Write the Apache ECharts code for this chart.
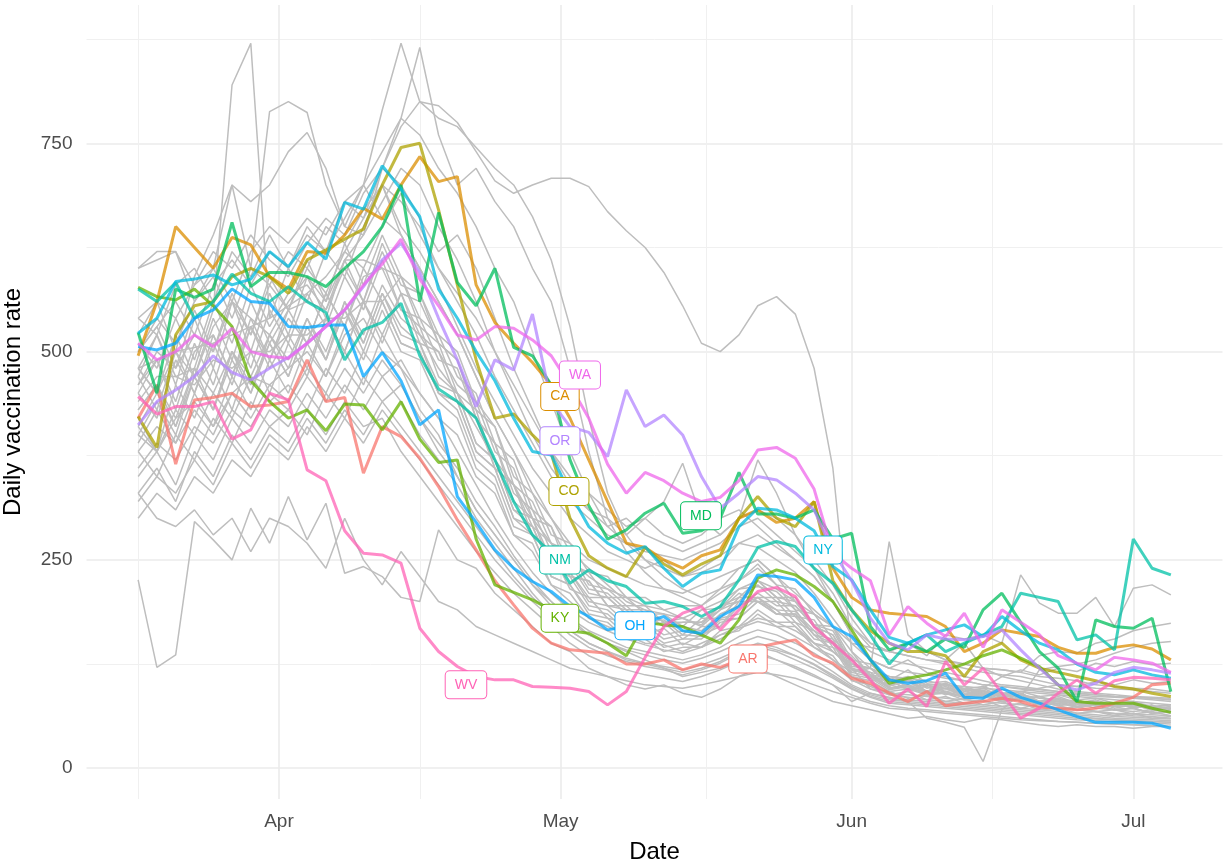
<!DOCTYPE html>
<html>
<head>
<meta charset="utf-8">
<title>Daily vaccination rate</title>
<script src="https://cdn.jsdelivr.net/npm/echarts@6/dist/echarts.min.js"></script>
<style>
html, body { margin: 0; padding: 0; background: #fff; }
#chart { width: 1225px; height: 865px; }
</style>
</head>
<body>
<div id="chart"></div>
<script>
// readings every second day, 17 Mar .. 5 Jul 2021
var firstDay = [2021, 2, 17];
var stepDays = 2;
var monthNames = ['Jan', 'Feb', 'Mar', 'Apr', 'May', 'Jun', 'Jul', 'Aug'];
var majorDays = [[2021, 3, 1], [2021, 4, 1], [2021, 5, 1], [2021, 6, 1]];
var minorDays = [[2021, 2, 17], [2021, 3, 16], [2021, 4, 16.5], [2021, 5, 16]];
var yMajor = [0, 250, 500, 750];
var yMinor = [125, 375, 625, 875];

// highlighted states
var states = ['AR', 'CA', 'CO', 'KY', 'MD', 'NM', 'NY', 'OH', 'OR', 'WA', 'WV'];
var stateColors = ['#F8766D', '#DB8E00', '#AEA200', '#64B200', '#00BD5C', '#00C1A7',
                   '#00BADE', '#00A6FF', '#B385FF', '#EF67EB', '#FF63B6'];

var AR = [420,460,365,442,445,450,434,436, 440,490,440,445,354,410,398,372, 338,298,262,225,196,168,150,142, 140,138,125,125,130,118,125,121, 130,145,150,154,135,126,108,102, 90,80,92,75,78,80,84,80, 73,72,70,72,78,85,100,102];
var CA = [495,560,650,625,600,637,628,590, 575,620,618,640,672,659,700,734, 704,710,580,535,510,487,460,420, 370,320,270,265,250,240,255,262, 300,310,295,300,320,240,205,190, 186,184,182,170,140,150,166,162, 158,145,138,138,145,148,143,130];
var CO = [422,385,520,555,560,590,600,590, 570,610,622,635,647,700,745,750, 670,580,490,420,425,400,378,300, 255,240,230,265,245,232,245,255, 300,326,300,290,320,225,190,165, 150,140,140,135,110,140,150,130, 120,115,110,105,98,95,90,86];
var KY = [577,566,562,575,555,530,465,440, 420,430,405,437,436,406,440,395, 367,370,275,220,211,202,190,165, 162,150,135,175,172,170,160,150, 178,228,238,232,218,200,166,130, 102,108,112,118,125,135,142,132, 122,100,80,78,78,78,72,67];
var MD = [523,450,575,565,575,655,578,595, 595,590,578,600,620,650,700,560, 667,583,555,600,505,495,460,370, 315,275,286,306,318,282,285,300, 355,305,305,300,310,275,282,170, 142,150,140,155,145,190,210,175, 140,120,80,178,170,168,180,92];
var NM = [575,560,583,540,560,593,570,560, 578,560,547,490,526,535,558,495, 455,440,420,370,320,280,258,222, 238,225,218,198,200,194,182,194, 226,265,272,266,240,222,190,160, 125,150,160,140,150,160,170,210, 205,200,154,160,142,275,240,232];
var NY = [522,540,584,587,592,580,587,620, 602,631,611,679,671,723,695,662, 575,540,500,465,420,380,376,330, 290,270,258,266,240,218,234,238, 290,312,310,300,285,242,226,190, 157,150,160,166,172,158,182,165, 150,142,125,115,112,118,112,108];
var OH = [506,502,510,540,550,575,560,558, 530,529,532,532,470,499,465,412, 430,326,295,262,240,224,212,194, 182,166,170,175,182,165,162,182, 194,232,230,226,205,170,158,130, 106,102,105,114,85,84,96,85, 78,70,62,55,55,55,54,48];
var OR = [412,440,454,470,495,475,466,480, 493,510,530,550,578,610,630,595, 540,490,434,490,478,545,440,410, 403,374,454,410,424,400,350,312, 330,350,346,330,310,260,225,180, 150,142,160,155,154,158,166,142, 120,100,94,102,115,121,118,114];
var WA = [510,490,500,520,506,528,500,494, 492,510,530,550,580,605,635,587, 555,520,514,530,528,514,495,460, 420,365,330,355,345,330,320,325, 345,382,385,372,335,258,240,225, 160,194,174,158,186,145,190,175, 160,135,126,118,133,130,126,115];
var WV = [446,425,434,434,440,395,406,450, 442,358,345,285,258,256,246,168, 140,122,110,106,106,98,97,96, 92,76,92,133,170,186,194,166, 190,212,217,206,170,150,130,106, 78,95,74,128,100,120,90,60, 72,90,106,90,105,109,108,106];
var stateValues = [AR, CA, CO, KY, MD, NM, NY, OH, OR, WA, WV];

// label anchors: days after 17 Mar, value
var labelDay = [64.96, 44.93, 45.89, 44.93, 59.95, 44.93, 72.95, 52.92, 44.93, 47.06, 34.92];
var labelValue = [131, 446, 332, 180, 303, 250, 262, 171, 393, 472, 100];

// the other states, in grey
var other01 = [470,520,470,480,550,820,870,540, 600,560,620,590,650,700,640,600, 560,520,470,420,380,330,300,260, 240,220,200,190,185,180,170,190, 210,200,190,170,150,140,120,110, 100,95,100,90,85,90,80,85, 80,75,78,72,70,68,70,66];
var other02 = [600,620,620,560,600,700,600,788, 800,787,700,650,700,790,870,800, 780,770,745,720,700,662,610,530, 420,330,280,250,230,215,205,215, 240,250,230,200,170,150,130,110, 105,110,100,95,98,90,88,85, 118,122,125,130,138,145,150,152];
var other03 = [540,560,500,590,640,700,680,700, 740,763,720,650,640,720,780,865, 760,700,720,680,650,600,560,480, 380,300,260,235,215,205,195,210, 225,240,220,190,160,140,125,115, 110,105,100,100,95,92,90,88, 84,82,80,78,76,75,74,72];
var other04 = [480,490,500,505,510,520,530,540, 555,570,590,620,660,720,770,800, 795,775,740,705,690,700,708,708, 698,668,645,625,595,555,510,500, 520,555,566,545,480,360,140,110, 105,95,92,90,88,86,84,82, 80,80,78,76,75,74,72,72];
var other05 = [226,121,136,296,274,250,312,270, 326,274,318,234,242,230,205,200, 286,250,240,210,190,170,150,140, 120,110,100,95,100,90,85,95, 110,120,110,100,90,80,75,70, 65,60,62,58,55,60,58,55, 52,50,52,50,50,48,50,50];
var other06 = [400,380,420,440,410,450,470,460, 480,500,470,520,540,500,480,430, 400,350,310,280,250,220,200,180, 160,150,140,130,120,110,115,120, 130,140,130,120,110,100,80,90, 85,80,60,55,49,8,70,90, 80,75,70,68,65,63,62,60];
var other07 = [380,410,390,430,400,450,420,460, 440,480,450,500,460,520,480,450, 420,400,350,330,280,260,220,200, 180,170,160,150,148,140,150,160, 170,180,175,165,150,130,115,120, 272,160,140,130,150,120,110,105, 100,95,92,90,88,86,85,84];
var other08 = [430,460,420,480,450,500,470,520, 490,540,500,560,520,580,540,520, 480,450,410,370,340,300,270,250, 230,215,205,195,190,180,190,200, 215,225,215,200,185,170,150,145, 140,150,135,160,155,160,150,232, 198,186,186,205,170,216,220,208];
var other09 = [540,520,580,600,560,620,590,640, 600,650,620,680,660,700,650,620, 580,530,480,440,400,360,330,300, 280,260,250,240,250,230,235,245, 270,280,265,250,230,200,160,140, 130,125,120,115,110,105,100,98, 95,92,90,88,86,85,84,82];
var other10 = [500,540,510,560,590,540,600,580, 620,600,650,630,670,700,680,650, 600,560,520,470,430,390,350,320, 300,280,270,260,255,250,260,270, 290,300,280,260,240,210,170,145, 140,135,130,125,120,115,112,110, 105,100,98,96,95,94,92,90];
var other11 = [460,500,480,520,500,560,540,520, 560,590,560,610,640,680,720,700, 650,610,560,500,450,400,360,330, 310,290,300,280,270,260,270,280, 300,310,300,280,250,220,180,150, 140,150,140,130,125,120,118,115, 110,108,105,100,98,96,95,92];
var other12 = [520,560,540,580,620,600,640,610, 590,630,660,640,690,720,700,660, 620,640,600,540,480,430,380,340, 310,300,280,300,320,366,300,280, 300,370,330,280,240,200,160,130, 120,130,115,110,105,100,98,95, 92,90,88,86,85,84,82,80];
var other13 = [480,450,500,470,530,560,520,580, 550,600,570,620,600,650,690,640, 600,570,540,500,460,420,380,350, 330,310,290,300,280,270,280,300, 310,290,270,250,230,200,170,150, 140,135,130,128,125,120,118,115, 135,140,138,150,155,165,170,174];
var other14 = [600,610,620,580,600,560,620,650, 630,660,640,680,700,660,640,600, 560,520,470,420,380,340,300,270, 250,240,230,220,215,210,220,230, 240,250,230,210,190,170,140,120, 110,108,105,100,98,96,94,92, 90,88,86,84,82,80,78,76];
var other15 = [500,530,560,520,580,610,580,620, 600,640,620,660,700,740,780,760, 720,690,650,600,560,500,440,380, 330,290,270,250,240,230,240,255, 270,265,250,235,210,180,150,130, 120,115,112,108,105,100,98,96, 94,92,90,88,86,85,84,82];
var other16 = [450,490,430,500,520,470,530,490, 540,510,570,530,600,560,590,530, 510,450,430,360,340,280,260,215, 205,180,175,160,168,148,160,170, 195,205,190,188,165,152,118,112, 98,108,92,102,90,93,86,88, 80,82,76,78,74,76,70,72];
var other17 = [420,380,460,420,480,430,500,450, 510,470,540,500,560,510,570,520, 500,460,440,380,360,300,290,245, 235,205,205,185,185,170,190,192, 215,218,212,190,185,155,135,112, 108,98,100,92,95,88,90,84, 86,80,82,76,78,73,75,70];
var other18 = [480,520,460,540,480,560,500,570, 520,590,540,610,560,630,580,570, 520,500,440,410,350,330,280,270, 235,230,205,205,190,195,195,215, 225,245,220,215,185,170,130,125, 105,118,102,104,95,98,90,92, 86,88,82,84,78,80,74,76];
var other19 = [400,440,400,470,430,490,450,510, 470,530,490,550,510,570,530,510, 450,430,370,350,290,280,230,220, 190,185,165,165,150,155,155,175, 180,200,185,185,160,150,115,110, 96,98,88,92,85,88,80,84, 78,80,74,76,70,72,66,68];
var other20 = [510,480,540,490,560,510,580,530, 570,580,550,610,610,600,550,530, 470,450,390,370,310,290,240,235, 205,205,185,185,170,170,165,185, 195,210,195,195,170,160,120,115, 96,100,92,96,88,92,85,88, 80,84,78,80,74,76,72,74];
var other21 = [440,470,470,460,490,480,500,500, 520,520,540,540,560,560,510,500, 450,440,380,360,300,280,230,220, 185,180,160,165,145,150,145,165, 170,190,175,175,150,145,110,105, 92,95,88,90,82,86,80,82, 76,78,73,76,70,72,66,68];
var other22 = [470,430,500,450,520,470,540,490, 550,510,570,530,590,600,590,540, 520,470,450,390,370,310,290,230, 225,195,190,170,175,155,170,170, 200,200,200,175,165,140,120,95, 92,84,88,80,84,76,80,72, 77,70,74,68,70,65,68,63];
var other23 = [390,430,390,450,410,470,430,490, 450,510,470,530,490,550,500,490, 440,420,360,340,280,270,220,210, 180,175,155,155,140,145,145,160, 165,185,170,170,145,135,105,100, 88,92,82,86,78,82,74,78, 70,72,66,68,63,66,60,62];
var other24 = [460,490,440,510,460,530,480,550, 510,570,530,590,550,610,550,540, 490,480,420,390,330,310,260,250, 215,210,190,190,175,175,175,190, 200,220,200,195,170,160,125,120, 100,104,92,98,88,94,84,90, 80,86,78,82,75,78,73,76];
var other25 = [430,460,410,480,430,500,450,520, 480,540,490,560,510,570,520,510, 460,450,390,370,310,300,240,235, 200,195,175,175,160,165,160,180, 185,205,185,185,160,155,118,112, 96,100,90,96,86,92,82,88, 78,84,74,80,72,76,70,72];
var other26 = [500,530,480,550,500,570,520,590, 550,610,560,630,580,640,590,570, 510,490,420,390,320,300,250,245, 210,205,185,185,170,175,175,195, 205,225,205,200,172,165,125,120, 104,108,96,102,92,96,86,92, 96,100,98,104,100,106,102,104];
var other27 = [410,450,410,470,430,500,460,510, 470,530,490,550,500,560,510,500, 450,440,380,360,300,290,240,230, 195,190,170,172,155,160,158,178, 180,200,185,182,155,150,112,108, 94,98,88,92,85,88,80,84, 76,80,73,76,70,72,66,68];
var other28 = [450,420,490,450,510,460,530,480, 520,480,540,500,560,520,570,510, 500,440,420,360,340,290,270,230, 225,195,195,175,178,160,180,180, 205,205,205,182,178,145,132,105, 106,94,98,88,94,84,90,80, 86,76,82,74,78,72,76,68];
var other29 = [480,450,520,470,540,490,560,510, 550,560,550,600,560,620,570,560, 510,490,430,410,340,320,270,260, 220,215,195,195,175,180,172,195, 200,225,205,205,172,170,122,120, 100,106,92,100,88,96,110,118, 112,120,116,126,122,128,124,126];
var other30 = [350,380,340,400,370,420,390,430, 410,450,420,460,430,470,440,400, 370,340,300,270,240,210,185,165, 150,140,130,125,120,115,120,128, 140,148,142,135,125,112,98,88, 82,80,78,76,74,72,70,68, 66,64,62,60,58,57,56,55];
var other31 = [330,360,320,380,350,400,370,410, 390,430,400,440,410,420,380,350, 320,290,260,235,210,190,170,150, 135,125,118,112,108,104,110,118, 128,136,130,122,112,100,88,80, 75,72,70,68,66,64,62,60, 58,56,55,54,53,52,51,50];
var other32 = [380,350,400,370,420,390,440,410, 430,400,450,420,470,440,460,420, 390,360,320,290,255,225,200,180, 165,155,145,140,135,130,136,145, 158,166,160,150,138,124,106,95, 88,85,82,80,78,76,74,72, 70,68,66,64,62,61,60,59];
var other33 = [300,330,310,350,330,370,350,390, 370,410,380,420,390,430,400,370, 340,310,280,250,225,200,180,160, 145,135,128,122,118,112,118,126, 138,145,140,130,120,108,95,85, 78,76,74,72,70,68,66,64, 62,60,58,57,56,55,54,53];
var other34 = [410,380,430,400,450,420,470,440, 460,430,480,450,500,470,490,450, 420,380,340,300,265,235,210,190, 175,165,155,148,142,138,145,155, 168,176,170,158,145,130,110,98, 90,88,86,84,82,80,78,76, 74,72,70,68,66,65,64,63];
var other35 = [360,390,370,410,390,430,410,450, 430,470,440,480,450,490,460,420, 380,350,310,280,250,220,195,175, 160,150,142,136,130,126,132,140, 150,158,152,142,130,116,100,90, 84,82,80,78,76,74,72,70, 68,66,64,62,60,59,58,57];
var other36 = [320,350,330,370,340,390,360,400, 380,420,390,430,400,440,410,380, 350,320,290,260,230,205,185,165, 150,140,132,126,122,118,124,132, 142,150,145,135,124,110,96,86, 80,78,76,74,72,70,68,66, 64,62,60,59,58,57,56,55];
var other37 = [330,300,290,310,280,300,260,300, 290,270,240,300,250,220,260,230, 200,190,170,160,150,140,130,120, 115,110,105,100,98,96,100,105, 110,115,112,108,100,92,85,78, 72,70,68,66,64,62,60,58, 57,56,55,54,53,52,51,50];
var others = [other01, other02, other03, other04, other05, other06, other07, other08, other09, other10,
              other11, other12, other13, other14, other15, other16, other17, other18, other19, other20,
              other21, other22, other23, other24, other25, other26, other27, other28, other29, other30,
              other31, other32, other33, other34, other35, other36, other37];

var fontName = '"Liberation Sans", Arial, sans-serif';
var DAY = 86400000;
var start = new Date(firstDay[0], firstDay[1], firstDay[2]).getTime();

var dates = [];
for (var i = 0; i < AR.length; i++) {
	dates.push(start + i * stepDays * DAY);
}

var toTime = function(d){
	var whole = Math.floor(d[2]);
	return new Date(d[0], d[1], whole).getTime() + (d[2] - whole) * DAY;
};

var pairs = function(values){
	var out = [];
	for (var i = 0; i < values.length; i++) {
		out.push([dates[i], values[i]]);
	}
	return out;
};

var series = [];
for (var g = 0; g < others.length; g++) {
	series.push({
		type: 'line',
		data: pairs(others[g]),
		showSymbol: false,
		symbol: 'none',
		silent: true,
		z: 2,
		lineStyle: { color: '#BEBEBE', width: 1.5 }
	});
}
for (var s = 0; s < states.length; s++) {
	var col = stateColors[s];
	series.push({
		name: states[s],
		type: 'line',
		data: pairs(stateValues[s]),
		showSymbol: false,
		symbol: 'none',
		silent: true,
		z: 3,
		lineStyle: { color: col, width: 3, opacity: 0.75 },
		markPoint: {
			symbol: 'circle',
			symbolSize: 2,
			silent: true,
			z: 10,
			itemStyle: { color: 'rgba(255,255,255,0)' },
			label: {
				show: true,
				position: 'inside',
				formatter: states[s],
				color: col,
				fontSize: 14,
				lineHeight: 16,
				fontFamily: fontName,
				backgroundColor: '#ffffff',
				borderColor: col,
				borderWidth: 1,
				borderRadius: 4,
				padding: [6, 9, 5, 9]
			},
			data: [{ coord: [start + labelDay[s] * DAY, labelValue[s]] }]
		}
	});
}

var xMin = new Date(2021, 2, 11, 12).getTime();
var xMax = new Date(2021, 6, 10, 12).getTime();
var majorX = majorDays.map(toTime);
var minorX = minorDays.map(toTime);

var option = {
	animation: false,
	backgroundColor: '#ffffff',
	grid: { left: 86.5, right: 2.5, top: 5, bottom: 66, containLabel: false, outerBoundsMode: 'none' },
	xAxis: [
		{
			type: 'value',
			min: xMin,
			max: xMax,
			axisLine: { show: false },
			axisTick: { show: false, customValues: majorX },
			axisLabel: {
				customValues: majorX,
				formatter: function(val){ return monthNames[new Date(val).getMonth()]; },
				fontSize: 19,
				color: '#4D4D4D',
				fontFamily: fontName,
				margin: 13
			},
			splitLine: { show: true, lineStyle: { color: '#EBEBEB', width: 1.6 } },
			name: 'Date',
			nameLocation: 'middle',
			nameGap: 41,
			nameTextStyle: { fontSize: 24, color: '#000000', fontFamily: fontName }
		},
		{
			type: 'value',
			position: 'top',
			min: xMin,
			max: xMax,
			axisLine: { show: false },
			axisTick: { show: false, customValues: minorX },
			axisLabel: { show: false, customValues: minorX },
			splitLine: { show: true, lineStyle: { color: '#F0F0F0', width: 1 } }
		}
	],
	yAxis: [
		{
			type: 'value',
			min: -37,
			max: 916,
			axisLine: { show: false },
			axisTick: { show: false, customValues: yMajor },
			axisLabel: {
				customValues: yMajor,
				fontSize: 19,
				color: '#4D4D4D',
				fontFamily: fontName,
				margin: 14
			},
			splitLine: { show: true, lineStyle: { color: '#EBEBEB', width: 1.6 } },
			name: 'Daily vaccination rate',
			nameLocation: 'middle',
			nameRotate: 90,
			nameGap: 61,
			nameTextStyle: { fontSize: 24, color: '#000000', fontFamily: fontName }
		},
		{
			type: 'value',
			position: 'right',
			min: -37,
			max: 916,
			axisLine: { show: false },
			axisTick: { show: false, customValues: yMinor },
			axisLabel: { show: false, customValues: yMinor },
			splitLine: { show: true, lineStyle: { color: '#F0F0F0', width: 1 } }
		}
	],
	series: series
};

var chart = echarts.init(document.getElementById('chart'));
chart.setOption(option);
</script>
</body>
</html>
